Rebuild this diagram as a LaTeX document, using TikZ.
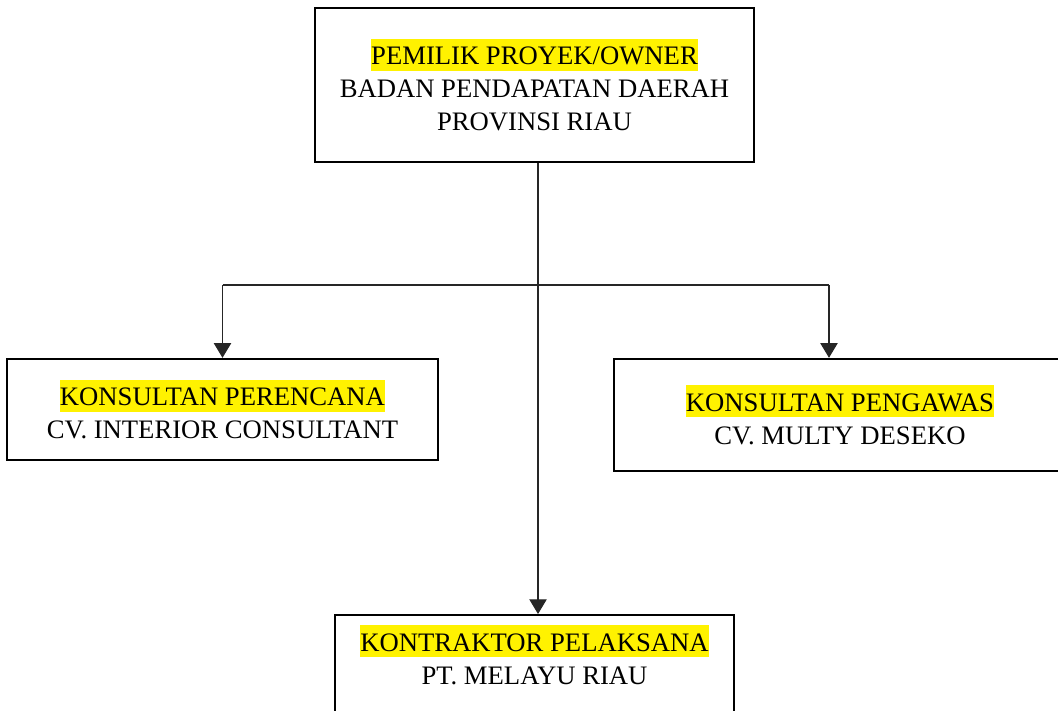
\documentclass[tikz,border=0pt]{standalone}
\usepackage{fontspec}
\setmainfont{Liberation Serif}
\usetikzlibrary{arrows.meta}
\newcommand{\hl}[1]{{\setlength{\fboxsep}{0pt}\colorbox{yellow}{\rule[-4.5pt]{0pt}{24pt}#1}}}
\begin{document}
\begin{tikzpicture}[x=0.75pt,y=-0.75pt,
  orgbox/.style={draw=black,line width=1.8pt,fill=white,align=center,inner sep=0pt,
    font=\fontsize{20}{24.75}\selectfont},
  conn/.style={line width=0.8pt,draw=black!85},
  arr/.style={conn,-{Triangle[width=13pt,length=11pt]}}]
\useasboundingbox (0,0) rectangle (1058,711);
\node[orgbox,minimum width=329.25pt,minimum height=115.5pt] (owner) at (534.5,85)
  {\hl{PEMILIK PROYEK/OWNER}\\BADAN PENDAPATAN DAERAH\\PROVINSI RIAU};
\node[orgbox,minimum width=323.25pt,minimum height=75.75pt] (plan) at (222.5,409.5)
  {\hl{KONSULTAN PERENCANA}\\CV. INTERIOR CONSULTANT};
\node[orgbox,minimum width=339pt,minimum height=84pt] (sup) at (840,415)
  {\hl{KONSULTAN PENGAWAS}\\CV. MULTY DESEKO};
\node[orgbox,minimum width=299.25pt,anchor=north,inner ysep=0pt] (con) at (534.5,614)
  {\rule{0pt}{27pt}\hl{KONTRAKTOR PELAKSANA}\\PT. MELAYU RIAU\\[60pt]\mbox{}};
\coordinate (j) at (538,285);
\coordinate (hl) at (222.5,285);
\coordinate (hr) at (829,285);
\draw[conn] (owner.south -| j) -- (j);
\draw[conn] (hl) -- (hr);
\draw[arr] (j) -- (con.north -| j);
\draw[arr] (hl) -- (plan.north);
\draw[arr] (hr) -- (sup.north -| hr);
\end{tikzpicture}
\end{document}
